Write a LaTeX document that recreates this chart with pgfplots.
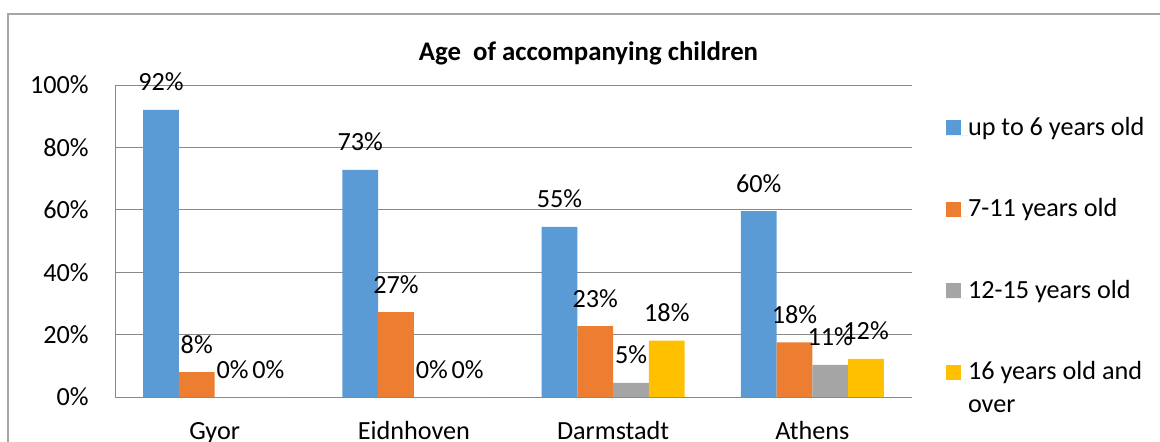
\documentclass[border=0pt]{standalone}
\usepackage{pgfplots}
\pgfplotsset{compat=1.18}
\usepackage{fontspec}
\setmainfont{Carlito}
\definecolor{cblue}{HTML}{5B9BD5}
\definecolor{corange}{HTML}{ED7D31}
\definecolor{cgray}{HTML}{A5A5A5}
\definecolor{cgold}{HTML}{FFC000}
\definecolor{gridc}{HTML}{888888}
\definecolor{framec}{HTML}{A6A6A6}
\pgfplotsset{sq legend/.style={legend image code/.code={\fill[##1] (0pt,0pt) rectangle (7.5pt,7.5pt); \path (0pt,0pt) -- (11pt,0pt);}}}
\begin{document}
\fontsize{13.1}{16}\selectfont
\begin{tikzpicture}
\path[use as bounding box] (0pt,0pt) rectangle (580pt,220.5pt);
\draw[framec, line width=0.7pt] (4pt,-5pt) -- (4pt,213.5pt) -- (590pt,213.5pt);
\node[anchor=base, font=\fontsize{13.4}{16}\selectfont\bfseries] at (294.25pt,190.5pt) {Age\ \ of accompanying children};
\begin{axis}[
  at={(57.5pt,22pt)}, anchor=south west,
  scale only axis, width=398.5pt, height=156pt,
  ybar=0pt, bar width=17.9pt,
  xmin=-0.5, xmax=3.5, ymin=0, ymax=100,
  xtick=data, xticklabels={Gyor,Eidnhoven,Darmstadt,Athens},
  ytick={0,20,40,60,80,100},
  yticklabels={0\%,20\%,40\%,60\%,80\%,100\%},
  major tick length=0pt,
  axis x line*=bottom, axis y line*=left,
  axis line style={gridc, line width=0.5pt},
  ymajorgrids, grid style={gridc, line width=0.5pt},
  xticklabel style={anchor=base, inner sep=0pt, yshift=-21pt},
  yticklabel style={anchor=east, inner sep=0pt, xshift=-13pt},
  /pgf/number format/assume math mode=true,
  point meta=explicit symbolic,
  nodes near coords={\pgfplotspointmeta\%},
  every node near coord/.append style={anchor=base, inner sep=0pt, yshift=9.5pt, black},
  legend style={draw=none, fill=none, inner sep=0pt, outer sep=0pt,
    row sep=28.75pt, at={(1.0427,0.8974)}, anchor=north west,
    cells={anchor=base west},
    nodes={text height=9pt, text depth=3pt, inner sep=0pt}},
]
\addplot[fill=cblue, draw=none, sq legend] table[meta=l] {
x y l
0 92 92
1 72.8 73
2 54.5 55
3 59.6 60
};
\addlegendentry{up to 6 years old}
\addplot[fill=corange, draw=none, sq legend] table[meta=l] {
x y l
0 8 8
1 27.2 27
2 22.7 23
3 17.5 18
};
\addlegendentry{7-11 years old}
\addplot[fill=cgray, draw=none, sq legend] table[meta=l] {
x y l
0 0 0
1 0 0
2 4.5 5
3 10.3 11
};
\addlegendentry{12-15 years old}
\addplot[fill=cgold, draw=none, sq legend] table[meta=l] {
x y l
0 0 0
1 0 0
2 18.1 18
3 12.2 12
};
\addlegendentry{\parbox[t]{100pt}{\baselineskip=16.5pt 16 years old and\\over}}
\end{axis}
\end{tikzpicture}
\end{document}
